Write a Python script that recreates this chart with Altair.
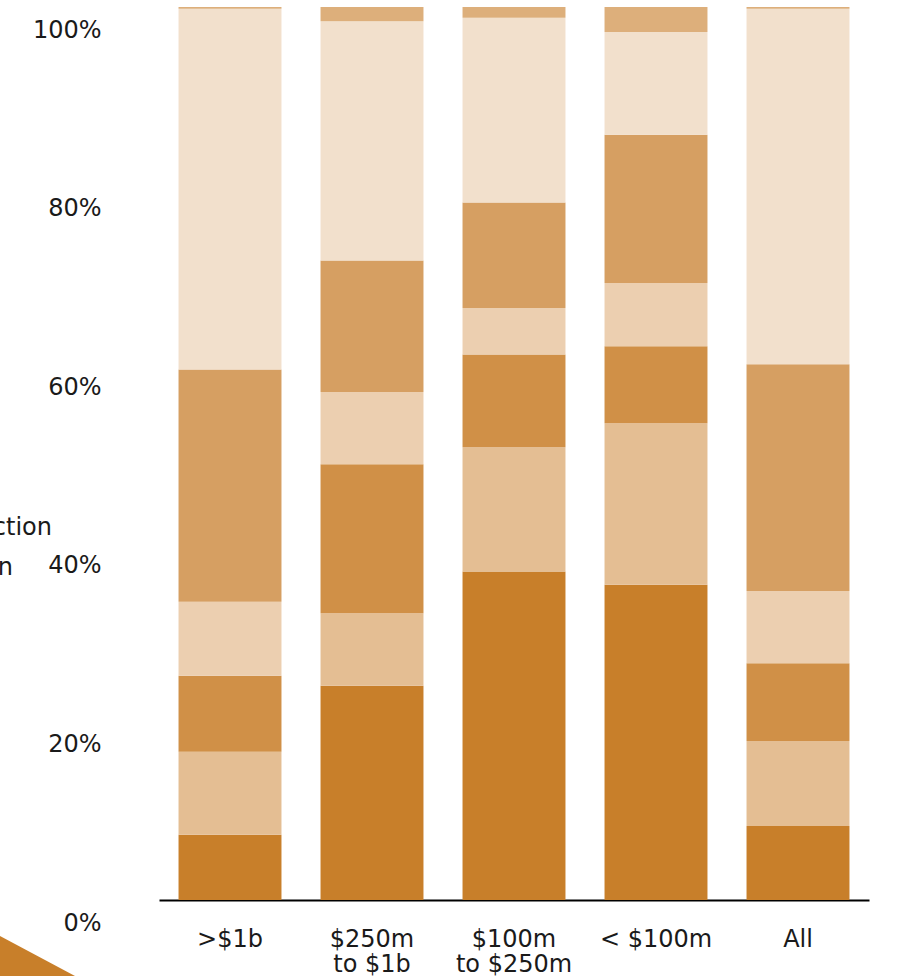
import json

import altair as alt
import pandas as pd

# Deal-size bands along the x axis
categories = [">$1b", "$250m to $1b", "$100m to $250m", "< $100m", "All"]
category_lines = {
    "$250m to $1b": ["$250m", "to $1b"],
    "$100m to $250m": ["$100m", "to $250m"],
}

# Stacked segments, bottom to top
segments = ["S1", "S2", "S3", "S4", "S5", "S6", "S7"]
segment_colors = ["#C87F2A", "#E4BE93", "#D09047", "#ECCFB0", "#D69F62", "#F2E0CC", "#DDAF7B"]

# Share of each segment (%) per band, bottom to top
share_gt_1b = [7.3, 9.3, 8.5, 8.3, 26.0, 40.4, 0.2]
share_250m_1b = [24.0, 8.1, 16.7, 8.1, 14.7, 26.8, 1.6]
share_100m_250m = [36.8, 13.9, 10.4, 5.2, 11.8, 20.7, 1.2]
share_lt_100m = [35.3, 18.1, 8.6, 7.1, 16.6, 11.5, 2.8]
share_all = [8.3, 9.5, 8.7, 8.1, 25.4, 39.8, 0.2]

y_ticks = [0, 20, 40, 60, 80, 100]

series = [share_gt_1b, share_250m_1b, share_100m_250m, share_lt_100m, share_all]
rows = []
for cat, vals in zip(categories, series):
    for rank, (seg, v) in enumerate(zip(segments, vals)):
        rows.append({"category": cat, "segment": seg, "rank": rank, "share": v})
df = pd.DataFrame(rows)

FONT = "DejaVu Sans"
INK = "#1a1a1a"

label_expr = " : ".join(
    f"datum.label == {json.dumps(k)} ? {json.dumps(v)}" for k, v in category_lines.items()
) + " : datum.label"

bars = alt.Chart(df).mark_bar().encode(
    x=alt.X(
        "category:N",
        sort=categories,
        scale=alt.Scale(paddingInner=0.275, paddingOuter=0.1375),
        axis=alt.Axis(
            title=None,
            labelAngle=0,
            labelExpr=label_expr,
            labelFont=FONT,
            labelFontSize=24,
            labelColor=INK,
            labelPadding=27,
            labelBaseline="top",
            labelLineHeight=25,
            ticks=False,
            tickSize=0,
            domainColor="#000000",
            domainWidth=2,
            grid=False,
        ),
    ),
    y=alt.Y(
        "share:Q",
        stack="zero",
        scale=alt.Scale(domain=[0, 100], nice=False),
        axis=alt.Axis(
            title=None,
            values=y_ticks,
            labelExpr="datum.value + '%'",
            labelFont=FONT,
            labelFontSize=24,
            labelColor=INK,
            labelAlign="right",
            labelBaseline="alphabetic",
            labelPadding=58,
            labelOffset=30,
            labelOverlap=False,
            ticks=False,
            tickSize=0,
            domain=False,
            grid=False,
        ),
    ),
    color=alt.Color(
        "segment:N",
        scale=alt.Scale(domain=segments, range=segment_colors),
        legend=None,
    ),
    order=alt.Order("rank:Q", sort="ascending"),
)

anchor = pd.DataFrame({"k": [0]})

# Left-hand caption, running off the left edge
caption_1 = alt.Chart(anchor).mark_text(
    text="Share of each transaction", align="right", baseline="alphabetic",
    font=FONT, fontSize=24, color=INK,
).encode(x=alt.value(-107), y=alt.value(528))

caption_2 = alt.Chart(anchor).mark_text(
    text="size band, by region", align="right", baseline="alphabetic",
    font=FONT, fontSize=24, color=INK,
).encode(x=alt.value(-146), y=alt.value(568))

# Corner wedge in the bottom-left
wedge = alt.Chart(anchor).mark_point(
    shape="M-1,-0.5333L1,0.5333L-1,0.5333Z",
    size=5625,
    filled=True,
    color="#C87F2A",
    opacity=1,
    strokeWidth=0,
).encode(x=alt.value(-121.5), y=alt.value(949))

chart = alt.layer(bars, caption_1, caption_2, wedge).properties(
    width=710,
    height=893,
    autosize=alt.AutoSizeParams(type="none"),
    padding={"left": 159, "top": 7, "right": 46, "bottom": 76},
    background="#ffffff",
).configure_view(stroke=None)

chart.save("out.html", embed_options={"renderer": "svg", "actions": False})
